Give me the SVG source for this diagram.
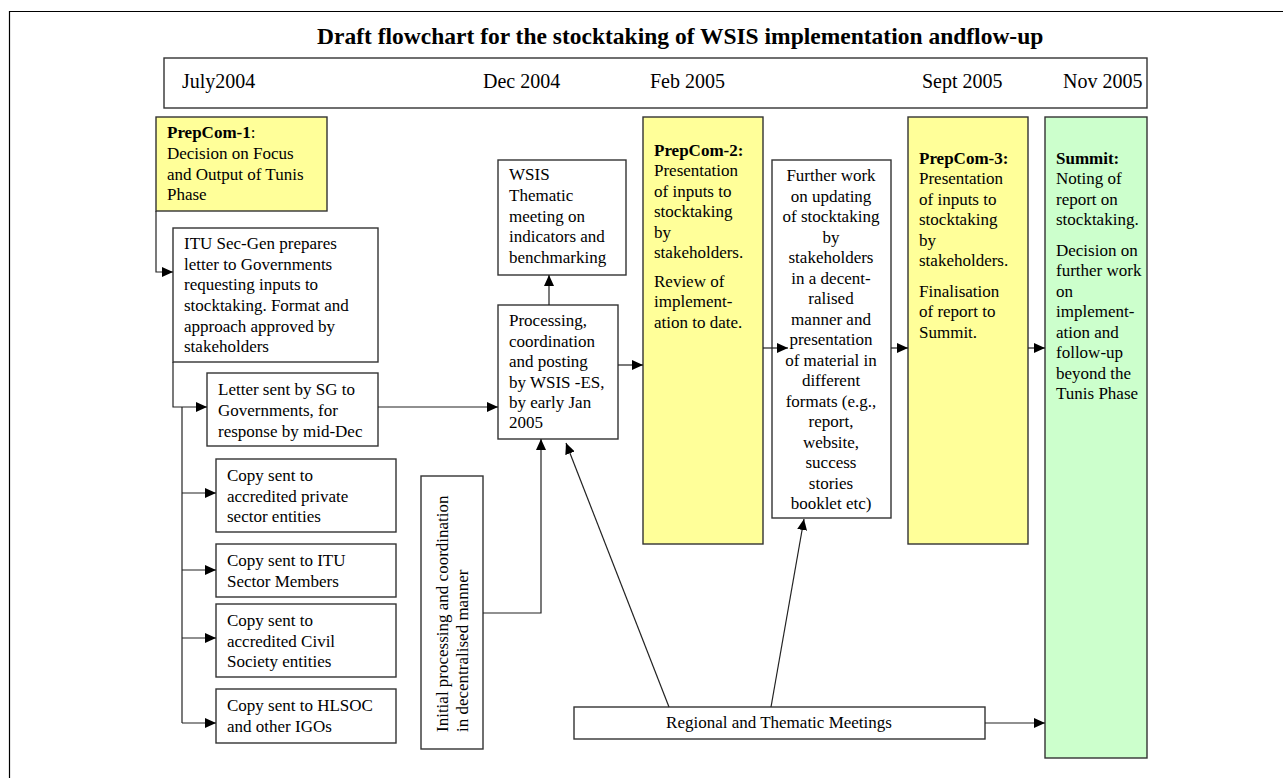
<svg xmlns="http://www.w3.org/2000/svg" width="1283" height="778" viewBox="0 0 1283 778">
<style>
text{font-family:"Liberation Serif","Times New Roman",serif;font-size:17px;fill:#000}
.title{font-size:23.5px;font-weight:bold}
.tl{font-size:20px}
.b{font-weight:bold}
.box{fill:#fff;stroke:#333;stroke-width:1.4}
.yel{fill:#ffff99;stroke:#333;stroke-width:1.4}
.grn{fill:#ccffcc;stroke:#333;stroke-width:1.4}
.c{fill:none;stroke:#222;stroke-width:1.2}
.mid{text-anchor:middle}
</style>
<defs>
<marker id="ah" markerUnits="userSpaceOnUse" markerWidth="11" markerHeight="10" refX="11" refY="5" orient="auto">
<path d="M0,0 L11,5 L0,10 z" fill="#000"/>
</marker>
</defs>
<rect x="0" y="0" width="1283" height="778" fill="#fff"/>
<path d="M9.5,778 V11.5 H1283" fill="none" stroke="#000" stroke-width="1.2"/>
<text class="title" x="317" y="44">Draft flowchart for the stocktaking of WSIS implementation andflow-up</text>

<g id="timeline">
<rect class="box" x="164" y="58" width="983" height="50"/>
<text class="tl" x="182" y="88">July2004</text>
<text class="tl" x="483" y="88">Dec 2004</text>
<text class="tl" x="650" y="88">Feb 2005</text>
<text class="tl" x="922" y="88">Sept 2005</text>
<text class="tl" x="1063" y="88">Nov 2005</text>
</g>

<g id="prepcom1">
<rect class="yel" x="156" y="117" width="171" height="94"/>
<text x="167" y="138"><tspan class="b">PrepCom-1</tspan>:</text>
<text x="167" y="159">Decision on Focus</text>
<text x="167" y="180">and Output of Tunis</text>
<text x="167" y="200">Phase</text>
</g>

<g id="itu-secgen">
<rect class="box" x="173" y="228" width="205" height="134"/>
<text x="184" y="249">ITU Sec-Gen prepares</text>
<text x="184" y="270">letter to Governments</text>
<text x="184" y="290">requesting inputs to</text>
<text x="184" y="311">stocktaking. Format and</text>
<text x="184" y="332">approach approved by</text>
<text x="184" y="352">stakeholders</text>
</g>

<g id="letter">
<rect class="box" x="207" y="373" width="171" height="73"/>
<text x="218" y="395">Letter sent by SG to</text>
<text x="218" y="416">Governments, for</text>
<text x="218" y="437">response by mid-Dec</text>
</g>

<g id="copy-private">
<rect class="box" x="216" y="459" width="180" height="73"/>
<text x="227" y="481">Copy sent to</text>
<text x="227" y="502">accredited private</text>
<text x="227" y="522">sector entities</text>
</g>

<g id="copy-itu">
<rect class="box" x="216" y="544" width="180" height="53"/>
<text x="227" y="566">Copy sent to ITU</text>
<text x="227" y="587">Sector Members</text>
</g>

<g id="copy-civil">
<rect class="box" x="216" y="604" width="180" height="73"/>
<text x="227" y="626">Copy sent to</text>
<text x="227" y="647">accredited Civil</text>
<text x="227" y="667">Society entities</text>
</g>

<g id="copy-hlsoc">
<rect class="box" x="216" y="689" width="180" height="54"/>
<text x="227" y="711">Copy sent to HLSOC</text>
<text x="227" y="732">and other IGOs</text>
</g>

<g id="initial-processing">
<rect class="box" x="421" y="476" width="62" height="273"/>
<text transform="translate(448,732) rotate(-90)">Initial processing and coordination</text>
<text transform="translate(468,732) rotate(-90)">in decentralised manner</text>
</g>

<g id="wsis-thematic">
<rect class="box" x="498" y="160" width="128" height="115"/>
<text x="509" y="180">WSIS</text>
<text x="509" y="201">Thematic</text>
<text x="509" y="222">meeting on</text>
<text x="509" y="242">indicators and</text>
<text x="509" y="263">benchmarking</text>
</g>

<g id="processing">
<rect class="box" x="498" y="305" width="120" height="134"/>
<text x="509" y="326">Processing,</text>
<text x="509" y="347">coordination</text>
<text x="509" y="367">and posting</text>
<text x="509" y="388">by WSIS -ES,</text>
<text x="509" y="408">by early Jan</text>
<text x="509" y="428">2005</text>
</g>

<g id="prepcom2">
<rect class="yel" x="643" y="117" width="120" height="427"/>
<text x="654" y="156" class="b">PrepCom-2:</text>
<text x="654" y="176">Presentation</text>
<text x="654" y="197">of inputs to</text>
<text x="654" y="217">stocktaking</text>
<text x="654" y="238">by</text>
<text x="654" y="258">stakeholders.</text>
<text x="654" y="287">Review of</text>
<text x="654" y="307">implement-</text>
<text x="654" y="328">ation to date.</text>
</g>

<g id="further-work">
<rect class="box" x="772" y="160" width="119" height="358"/>
<text class="mid" x="831" y="181">Further work</text>
<text class="mid" x="831" y="201.5">on updating</text>
<text class="mid" x="831" y="222">of stocktaking</text>
<text class="mid" x="831" y="242.5">by</text>
<text class="mid" x="831" y="263">stakeholders</text>
<text class="mid" x="831" y="283.5">in a decent-</text>
<text class="mid" x="831" y="304">ralised</text>
<text class="mid" x="831" y="324.5">manner and</text>
<text class="mid" x="831" y="345">presentation</text>
<text class="mid" x="831" y="365.5">of material in</text>
<text class="mid" x="831" y="386">different</text>
<text class="mid" x="831" y="406.5">formats (e.g.,</text>
<text class="mid" x="831" y="427">report,</text>
<text class="mid" x="831" y="447.5">website,</text>
<text class="mid" x="831" y="468">success</text>
<text class="mid" x="831" y="488.5">stories</text>
<text class="mid" x="831" y="509">booklet etc)</text>
</g>

<g id="prepcom3">
<rect class="yel" x="908" y="117" width="120" height="427"/>
<text x="919" y="164" class="b">PrepCom-3:</text>
<text x="919" y="184">Presentation</text>
<text x="919" y="205">of inputs to</text>
<text x="919" y="225">stocktaking</text>
<text x="919" y="246">by</text>
<text x="919" y="266">stakeholders.</text>
<text x="919" y="297">Finalisation</text>
<text x="919" y="317">of report to</text>
<text x="919" y="338">Summit.</text>
</g>

<g id="summit">
<rect class="grn" x="1045" y="117" width="102" height="641"/>
<text x="1056" y="164" class="b">Summit:</text>
<text x="1056" y="184">Noting of</text>
<text x="1056" y="205">report on</text>
<text x="1056" y="225">stocktaking.</text>
<text x="1056" y="256">Decision on</text>
<text x="1056" y="276">further work</text>
<text x="1056" y="297">on</text>
<text x="1056" y="317">implement-</text>
<text x="1056" y="338">ation and</text>
<text x="1056" y="358">follow-up</text>
<text x="1056" y="379">beyond the</text>
<text x="1056" y="399">Tunis Phase</text>
</g>

<g id="regional">
<rect class="box" x="574" y="707" width="411" height="32"/>
<text class="mid" x="779" y="728">Regional and Thematic Meetings</text>
</g>

<g id="connectors">
<path class="c" d="M156,211 V272 H173" marker-end="url(#ah)"/>
<path class="c" d="M173,362 V407 H207" marker-end="url(#ah)"/>
<path class="c" d="M182,407 V723"/>
<path class="c" d="M182,493 H216" marker-end="url(#ah)"/>
<path class="c" d="M182,570 H216" marker-end="url(#ah)"/>
<path class="c" d="M182,638 H216" marker-end="url(#ah)"/>
<path class="c" d="M182,723 H216" marker-end="url(#ah)"/>
<path class="c" d="M378,407 H498" marker-end="url(#ah)"/>
<path class="c" d="M483,613 H541 V439" marker-end="url(#ah)"/>
<path class="c" d="M549,305 V275" marker-end="url(#ah)"/>
<path class="c" d="M618,365 H643" marker-end="url(#ah)"/>
<path class="c" d="M763,348 H788" marker-end="url(#ah)"/>
<path class="c" d="M891,348 H908" marker-end="url(#ah)"/>
<path class="c" d="M1028,348 H1045" marker-end="url(#ah)"/>
<path class="c" d="M669,707 L566,443" marker-end="url(#ah)"/>
<path class="c" d="M771,707 L804,519" marker-end="url(#ah)"/>
<path class="c" d="M985,723 H1045" marker-end="url(#ah)"/>
</g>
</svg>
